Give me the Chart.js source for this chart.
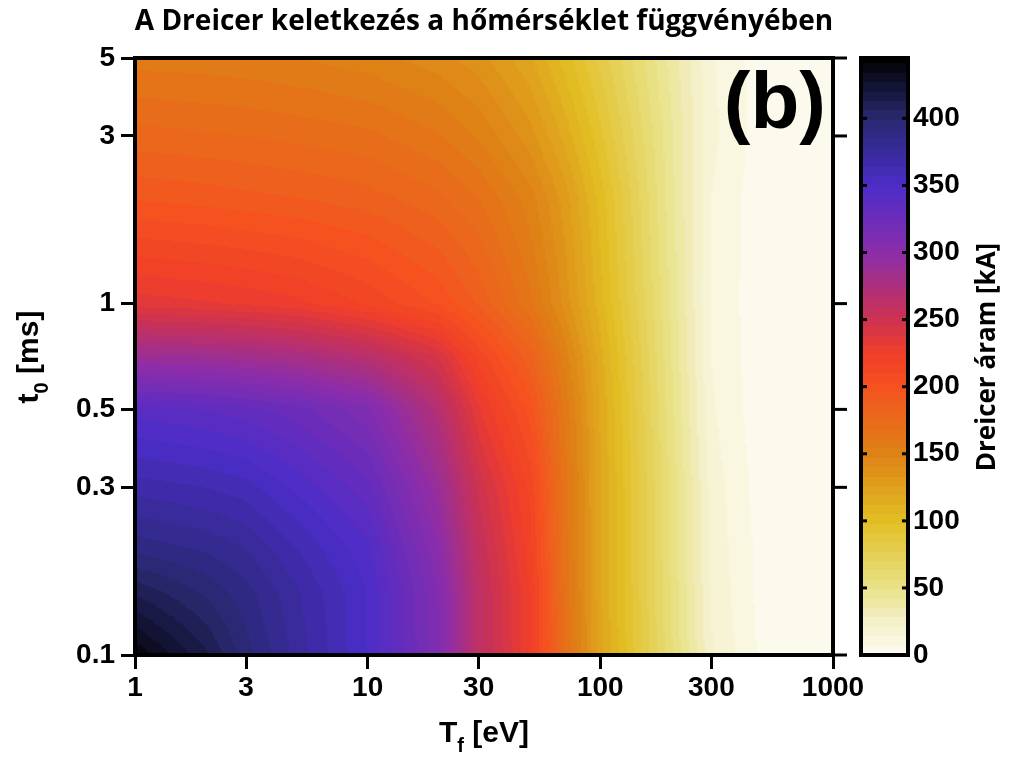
<!DOCTYPE html>
<html>
<head>
<meta charset="utf-8">
<script src="https://cdn.jsdelivr.net/npm/chart.js@4"></script>
<style>
  html, body { margin: 0; padding: 0; background: #fff; }
</style>
</head>
<body>
<canvas id="c" width="1024" height="768" style="width:1024px;height:768px"></canvas>
<script>
// grid
const tempF = [1, 2, 3, 5, 10, 20, 30, 50, 70, 100, 200, 300, 500, 700, 1000]; // eV
const timeT0 = [0.1, 0.15, 0.2, 0.3, 0.5, 0.7, 1, 2, 3, 5];                  // ms
// Dreicer current [kA], one row per timeT0 value
const dreicer = [
  [440, 415, 395, 375, 350, 310, 262, 225, 170, 122, 58, 22, 5, 0, 0],
  [412, 398, 388, 372, 350, 308, 262, 224, 168, 120, 56, 20, 4, 0, 0],
  [390, 384, 378, 364, 345, 302, 258, 220, 166, 120, 55, 19, 4, 0, 0],
  [368, 364, 360, 348, 332, 290, 250, 215, 165, 120, 55, 18, 3, 0, 0],
  [340, 336, 332, 325, 310, 270, 232, 200, 160, 118, 52, 15, 2, 0, 0],
  [290, 288, 285, 280, 268, 245, 215, 185, 152, 115, 50, 14, 2, 0, 0],
  [235, 232, 230, 226, 216, 202, 188, 163, 138, 108, 48, 13, 2, 0, 0],
  [195, 193, 191, 189, 185, 177, 168, 150, 130, 102, 45, 14, 2, 0, 0],
  [178, 176, 175, 173, 170, 162, 153, 136, 117, 93, 44, 16, 3, 0, 0],
  [158, 157, 156, 154, 150, 143, 136, 120, 102, 82, 40, 15, 3, 0, 0]
];
const xTicks = [1, 3, 10, 30, 100, 300, 1000];
const yTicks = [0.1, 0.3, 0.5, 1, 3, 5];
const cbTicks = [0, 50, 100, 150, 200, 250, 300, 350, 400];
const cbMax = 445;

const cmap = [
  [0, [253, 252, 242]], [25, [244, 240, 200]], [50, [232, 226, 135]],
  [100, [226, 190, 35]], [150, [222, 130, 22]], [200, [245, 82, 32]],
  [225, [240, 62, 42]], [250, [205, 50, 80]], [300, [140, 45, 170]],
  [350, [75, 45, 200]], [400, [40, 40, 110]], [445, [0, 0, 0]]
];
function colorOf(v) {
  if (v <= cmap[0][0]) return cmap[0][1];
  for (let i = 0; i < cmap.length - 1; i++) {
    const a = cmap[i], b = cmap[i + 1];
    if (v <= b[0]) {
      const t = (v - a[0]) / (b[0] - a[0]);
      return a[1].map((c, k) => Math.round(c + t * (b[1][k] - c)));
    }
  }
  return cmap[cmap.length - 1][1];
}
function findIdx(arr, v) {
  for (let i = 0; i < arr.length - 2; i++) if (v < arr[i + 1]) return i;
  return arr.length - 2;
}
function valueAt(x, y) {
  const lxs = tempF.map(Math.log), lys = timeT0.map(Math.log);
  const lx = Math.log(x), ly = Math.log(y);
  const i = findIdx(lxs, lx), j = findIdx(lys, ly);
  const tx = Math.min(1, Math.max(0, (lx - lxs[i]) / (lxs[i + 1] - lxs[i])));
  const ty = Math.min(1, Math.max(0, (ly - lys[j]) / (lys[j + 1] - lys[j])));
  const a = dreicer[j][i], b = dreicer[j][i + 1], c = dreicer[j + 1][i], d = dreicer[j + 1][i + 1];
  return (a * (1 - tx) + b * tx) * (1 - ty) + (c * (1 - tx) + d * tx) * ty;
}

const heatmap = {
  id: 'heatmap',
  beforeDatasetsDraw(chart) {
    const { ctx, chartArea: ca, scales } = chart;
    const step = 2;
    for (let px = ca.left; px < ca.right; px += step) {
      const xv = scales.x.getValueForPixel(px + step / 2);
      for (let py = ca.top; py < ca.bottom; py += step) {
        const yv = scales.y.getValueForPixel(py + step / 2);
        let v = valueAt(xv, yv);
        v = Math.floor(v / 7) * 7 + 3.5; // contour bands
        const c = colorOf(v);
        ctx.fillStyle = `rgb(${c[0]},${c[1]},${c[2]})`;
        ctx.fillRect(px, py, step + 0.5, step + 0.5);
      }
    }
  },
  afterDraw(chart) {
    const { ctx, chartArea: ca, scales } = chart;
    ctx.save();
    // frame
    ctx.strokeStyle = '#000';
    ctx.lineWidth = 4;
    ctx.strokeRect(ca.left, ca.top, ca.right - ca.left, ca.bottom - ca.top);
    // right-side ticks
    ctx.lineWidth = 3;
    yTicks.forEach(t => {
      const p = scales.y.getPixelForValue(t);
      ctx.beginPath(); ctx.moveTo(ca.right, p); ctx.lineTo(ca.right + 14, p); ctx.stroke();
    });
    // colorbar
    const cb = scales.cb;
    const bx0 = ca.right + 28, bx1 = ca.right + 75;
    const y0 = cb.getPixelForValue(0), y1 = cb.getPixelForValue(cbMax);
    for (let py = y1; py < y0; py += 1) {
      let v = cb.getValueForPixel(py + 0.5);
      v = Math.floor(v / 7) * 7 + 3.5;
      const c = colorOf(v);
      ctx.fillStyle = `rgb(${c[0]},${c[1]},${c[2]})`;
      ctx.fillRect(bx0, py, bx1 - bx0, 1.5);
    }
    ctx.lineWidth = 4;
    ctx.strokeRect(bx0, y1, bx1 - bx0, y0 - y1);
    ctx.lineWidth = 3;
    cbTicks.forEach(t => {
      if (t === 0) return;
      const p = cb.getPixelForValue(t);
      ctx.beginPath(); ctx.moveTo(bx0, p); ctx.lineTo(bx0 + 6, p); ctx.stroke();
      ctx.beginPath(); ctx.moveTo(bx1, p); ctx.lineTo(bx1 - 6, p); ctx.stroke();
    });
    // titles
    ctx.fillStyle = '#000';
    ctx.textAlign = 'center';
    ctx.textBaseline = 'middle';
    ctx.font = 'bold 28px "Open Sans"';
    ctx.fillText('A Dreicer keletkezés a hőmérséklet függvényében', 484, 22);
    ctx.font = 'bold 80px "Liberation Sans"';
    ctx.textAlign = 'right';
    ctx.fillText('(b)', 826, ca.top + 48);
    // x title with subscript
    ctx.textAlign = 'left';
    ctx.font = 'bold 20px "Liberation Sans"';
    const subW = ctx.measureText('f').width;
    ctx.font = 'bold 30px "Liberation Sans"';
    const xt1 = 'T', xt2 = ' [eV]';
    const w1 = ctx.measureText(xt1).width, w2 = ctx.measureText(xt2).width;
    const sx = 484 - (w1 + subW + w2) / 2;
    ctx.fillText(xt1, sx, 734);
    ctx.font = 'bold 20px "Liberation Sans"';
    ctx.fillText('f', sx + w1, 746);
    ctx.font = 'bold 30px "Liberation Sans"';
    ctx.fillText(xt2, sx + w1 + subW, 734);
    // y title
    ctx.save();
    ctx.translate(30, 357);
    ctx.rotate(-Math.PI / 2);
    const yt1 = 't', yt2 = ' [ms]';
    const v1 = ctx.measureText(yt1).width, v2 = ctx.measureText(yt2).width;
    ctx.font = 'bold 20px "Liberation Sans"';
    const s0 = ctx.measureText('0').width;
    const sy = -(v1 + s0 + v2) / 2;
    ctx.font = 'bold 30px "Liberation Sans"';
    ctx.fillText(yt1, sy, 0);
    ctx.font = 'bold 20px "Liberation Sans"';
    ctx.fillText('0', sy + v1, 12);
    ctx.font = 'bold 30px "Liberation Sans"';
    ctx.fillText(yt2, sy + v1 + s0, 0);
    ctx.restore();
    // colorbar title
    ctx.save();
    ctx.translate(988, 357);
    ctx.rotate(-Math.PI / 2);
    ctx.textAlign = 'center';
    ctx.font = 'bold 26px "Open Sans"';
    ctx.fillText('Dreicer áram [kA]', 0, 0);
    ctx.restore();
    ctx.restore();
  }
};

const tickFont = { family: 'Liberation Sans', size: 28, weight: 'bold' };

new Chart(document.getElementById('c').getContext('2d'), {
  type: 'scatter',
  data: { datasets: [{ data: [], pointRadius: 0 }] },
  options: {
    responsive: false,
    animation: false,
    devicePixelRatio: 1,
    layout: { padding: { top: 58, left: 0, right: 0, bottom: 0 } },
    plugins: { legend: { display: false }, tooltip: { enabled: false } },
    scales: {
      x: {
        type: 'logarithmic', min: 1, max: 1000,
        afterBuildTicks: s => { s.ticks = xTicks.map(v => ({ value: v })); },
        afterFit: s => { s.height = 113; s.paddingLeft = 0; s.paddingRight = 0; },
        ticks: { color: '#000', font: tickFont, padding: 2, maxRotation: 0, autoSkip: false,
                 callback: v => String(v) },
        grid: { drawOnChartArea: false, color: '#000', lineWidth: 3, tickLength: 14 },
        border: { color: '#000', width: 4 }
      },
      y: {
        type: 'logarithmic', min: 0.1, max: 5,
        afterBuildTicks: s => { s.ticks = yTicks.map(v => ({ value: v })); },
        afterFit: s => { s.width = 135; s.paddingTop = 0; s.paddingBottom = 0; },
        ticks: { color: '#000', font: tickFont, padding: 6, autoSkip: false,
                 callback: v => String(v) },
        grid: { drawOnChartArea: false, color: '#000', lineWidth: 3, tickLength: 14 },
        border: { color: '#000', width: 4 }
      },
      cb: {
        type: 'linear', position: 'right', min: 0, max: cbMax,
        afterBuildTicks: s => { s.ticks = cbTicks.map(v => ({ value: v })); },
        afterFit: s => { s.width = 191; s.paddingTop = 0; s.paddingBottom = 0; },
        ticks: { color: '#000', font: tickFont, padding: 72, autoSkip: false },
        grid: { display: false },
        border: { display: false }
      }
    }
  },
  plugins: [heatmap]
});
</script>
</body>
</html>
